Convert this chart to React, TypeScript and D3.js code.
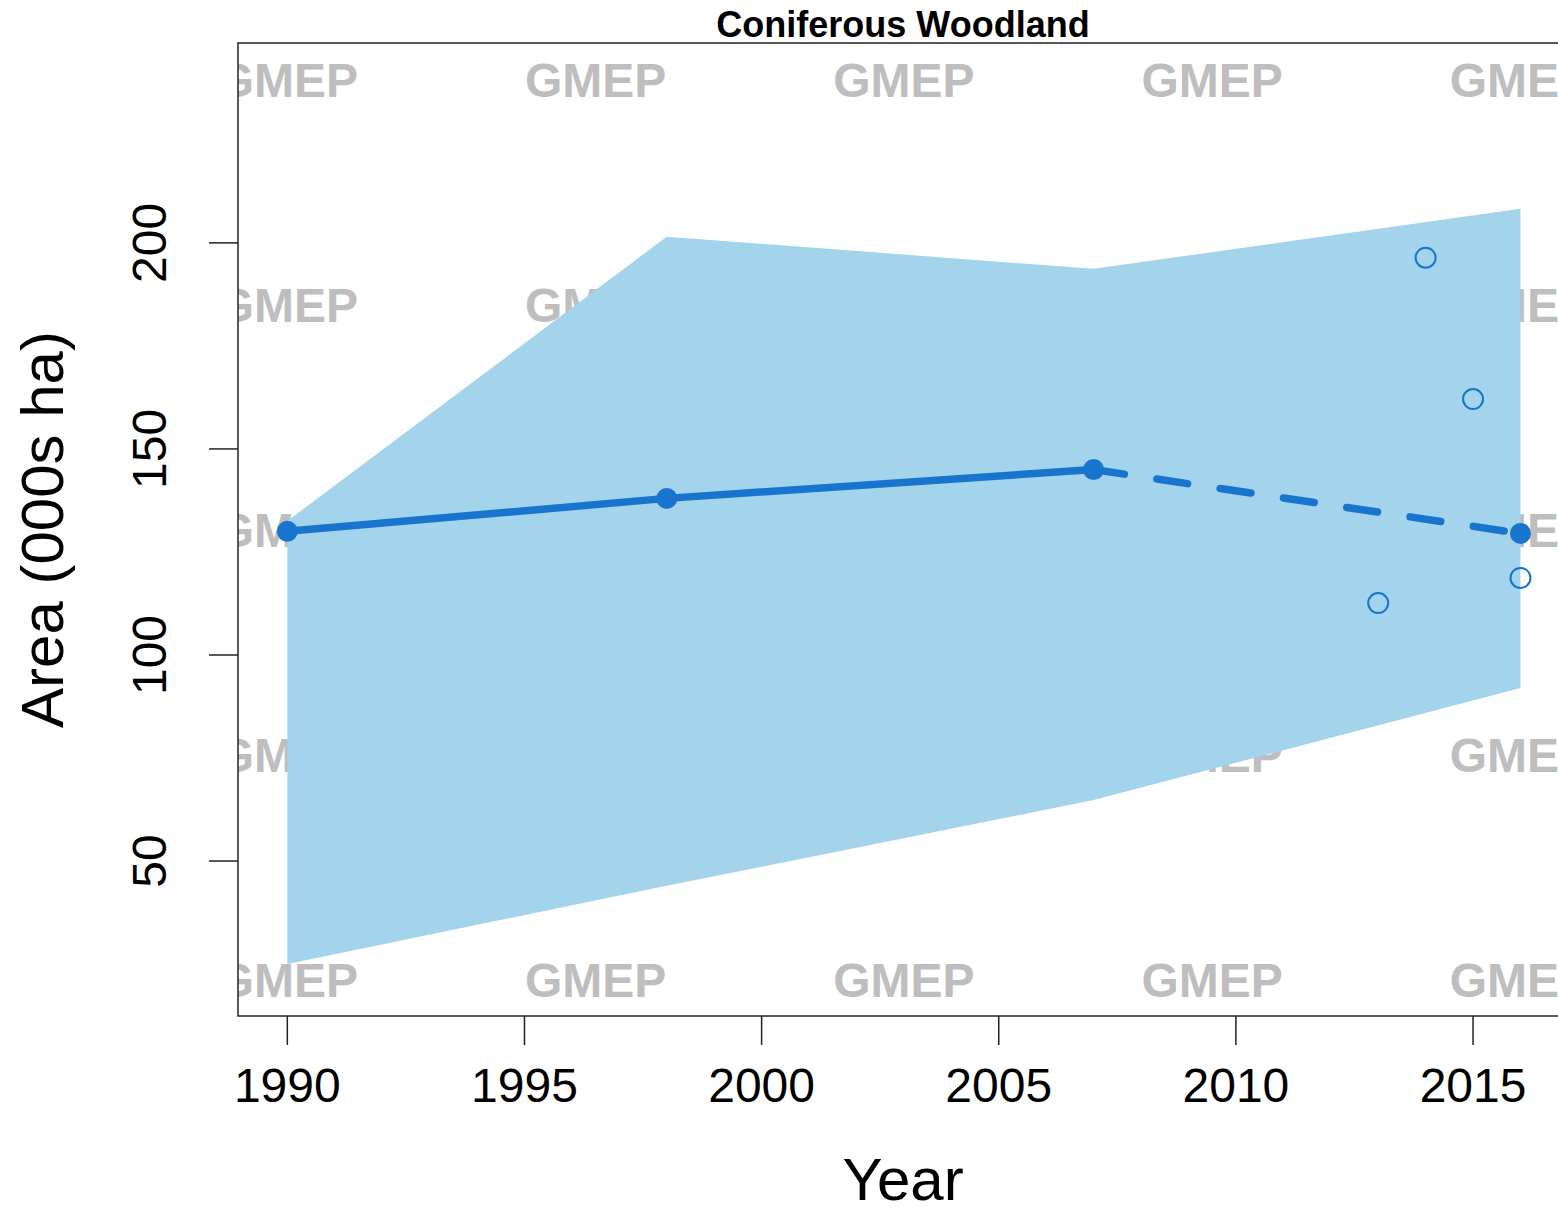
import React from "react";
import * as d3 from "d3";

const years = [1990, 1998, 2007, 2016];
const estimate = [130, 138, 145, 129.5];
const upper = [132.5, 201.5, 193.7, 208.3];
const lower = [25, 44, 64.8, 92];
const obsYears = [2013, 2014, 2015, 2016];
const obsValues = [112.6, 196.4, 162.1, 118.7];
const xTicks = [1990, 1995, 2000, 2005, 2010, 2015];
const yTicks = [50, 100, 150, 200];
const wmCols = [1990, 1996.5, 2003, 2009.5, 2016];
const wmRows = [21.1, 75.75, 130.4, 185.05, 239.7];

const W = 1558;
const H = 1208;
const left = 238;
const right = 1569.8;
const top = 43;
const bottom = 1016;

const FONT = "'Liberation Sans', Arial, Helvetica, sans-serif";
const LINE = "#1874CD";
const BAND = "#A4D3EC";

export default function App() {
  const x = d3.scaleLinear().domain([1988.96, 2017.04]).range([left, right]);
  const y = d3.scaleLinear().domain([12.4, 248.5]).range([bottom, top]);

  const area = d3
    .area<number>()
    .x((_, i) => x(years[i]))
    .y0((_, i) => y(lower[i]))
    .y1((_, i) => y(upper[i]));

  const seg = d3
    .line<number>()
    .x((i) => x(years[i]))
    .y((i) => y(estimate[i]));
  const solidPath = seg([0, 1, 2]);
  const dashPath = seg([2, 3]);

  return (
    <svg
      width={W}
      height={H}
      style={{ position: "absolute", left: 0, top: 0, display: "block", background: "#fff" }}
    >
      <defs>
        <clipPath id="plotclip">
          <rect x={left} y={top} width={right - left} height={bottom - top} />
        </clipPath>
      </defs>
      <rect x={0} y={0} width={W} height={H} fill="#fff" />
      <g clipPath="url(#plotclip)">
        {wmRows.map((r) =>
          wmCols.map((c) => (
            <text
              key={`${r}-${c}`}
              x={x(c)}
              y={y(r)}
              dy="0.36em"
              textAnchor="middle"
              fontFamily={FONT}
              fontWeight="bold"
              fontSize={48}
              fill="#BEBEBE"
            >
              GMEP
            </text>
          ))
        )}
        <path d={area(estimate) || ""} fill={BAND} />
        <path d={solidPath || ""} fill="none" stroke={LINE} strokeWidth={7.5} strokeLinejoin="round" strokeLinecap="round" />
        <path
          d={dashPath || ""}
          fill="none"
          stroke={LINE}
          strokeWidth={7.5}
          strokeLinecap="round"
          strokeDasharray="31 33"
        />
        {estimate.map((v, i) => (
          <circle key={i} cx={x(years[i])} cy={y(v)} r={10.5} fill={LINE} />
        ))}
        {obsValues.map((v, i) => (
          <circle key={i} cx={x(obsYears[i])} cy={y(v)} r={10} fill="none" stroke={LINE} strokeWidth={2} />
        ))}
      </g>
      <rect
        x={left}
        y={top}
        width={right - left}
        height={bottom - top}
        fill="none"
        stroke="#222"
        strokeWidth={1.5}
      />
      {xTicks.map((t) => (
        <g key={t}>
          <line x1={x(t)} x2={x(t)} y1={bottom} y2={bottom + 29} stroke="#222" strokeWidth={1.5} />
          <text
            x={x(t)}
            y={1102}
            textAnchor="middle"
            fontFamily={FONT}
            fontSize={48}
            fill="#000"
          >
            {t}
          </text>
        </g>
      ))}
      {yTicks.map((t) => (
        <g key={t}>
          <line x1={left} x2={left - 29} y1={y(t)} y2={y(t)} stroke="#222" strokeWidth={1.5} />
          <text
            transform={`translate(166,${y(t)}) rotate(-90)`}
            textAnchor="middle"
            fontFamily={FONT}
            fontSize={48}
            fill="#000"
          >
            {t}
          </text>
        </g>
      ))}
      <text
        x={903}
        y={37}
        textAnchor="middle"
        fontFamily={FONT}
        fontWeight="bold"
        fontSize={36}
        fill="#000"
      >
        Coniferous Woodland
      </text>
      <text
        x={903}
        y={1200}
        textAnchor="middle"
        fontFamily={FONT}
        fontSize={60}
        fill="#000"
      >
        Year
      </text>
      <text
        transform={`translate(63,${(top + bottom) / 2}) rotate(-90)`}
        textAnchor="middle"
        fontFamily={FONT}
        fontSize={60}
        fill="#000"
      >
        Area (000s ha)
      </text>
    </svg>
  );
}
